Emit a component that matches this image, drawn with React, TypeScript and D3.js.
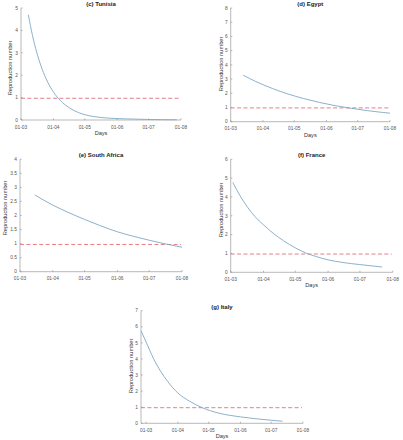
import React from "react";
import * as d3 from "d3";

// ---------- data ----------
const tickMonths = ["2020-03-01", "2020-04-01", "2020-05-01", "2020-06-01", "2020-07-01", "2020-08-01"];
const threshold = 0.97;

const tunisiaDates = ["2020-03-08", "2020-03-12", "2020-03-16", "2020-03-20", "2020-03-25", "2020-03-31", "2020-04-06", "2020-04-13", "2020-04-20", "2020-04-30", "2020-05-10", "2020-05-25", "2020-06-10", "2020-06-30", "2020-07-15", "2020-07-28"];
const tunisiaR = [4.7, 3.77, 3.03, 2.43, 1.84, 1.32, 0.95, 0.65, 0.44, 0.25, 0.15, 0.08, 0.05, 0.025, 0.015, 0.01];

const egyptDates = ["2020-03-13", "2020-03-25", "2020-04-10", "2020-04-25", "2020-05-10", "2020-05-25", "2020-06-10", "2020-06-25", "2020-07-10", "2020-07-25", "2020-08-01"];
const egyptR = [3.27, 2.83, 2.34, 1.95, 1.63, 1.36, 1.12, 0.94, 0.78, 0.65, 0.6];

const southAfricaDates = ["2020-03-15", "2020-04-01", "2020-04-15", "2020-05-01", "2020-05-15", "2020-06-01", "2020-06-15", "2020-07-01", "2020-07-15", "2020-08-01"];
const southAfricaR = [2.73, 2.37, 2.12, 1.86, 1.65, 1.42, 1.27, 1.12, 1.0, 0.87];

const franceDates = ["2020-03-03", "2020-03-10", "2020-03-17", "2020-03-24", "2020-04-01", "2020-04-10", "2020-04-20", "2020-05-01", "2020-05-12", "2020-05-20", "2020-06-01", "2020-06-15", "2020-07-01", "2020-07-22"];
const franceR = [4.77, 4.05, 3.45, 2.95, 2.52, 2.08, 1.67, 1.3, 1.0, 0.85, 0.66, 0.52, 0.41, 0.28];

const italyDates = ["2020-02-25", "2020-03-01", "2020-03-08", "2020-03-15", "2020-03-22", "2020-04-01", "2020-04-12", "2020-04-25", "2020-05-11", "2020-06-01", "2020-06-15", "2020-07-01", "2020-07-12"];
const italyR = [5.75, 5.05, 4.05, 3.25, 2.6, 1.88, 1.39, 0.96, 0.63, 0.4, 0.29, 0.19, 0.13];

const tunisiaYTicks = [0, 1, 2, 3, 4, 5];
const egyptYTicks = [0, 1, 2, 3, 4, 5, 6, 7, 8];
const southAfricaYTicks = [0, 0.5, 1, 1.5, 2, 2.5, 3, 3.5, 4];
const franceYTicks = [0, 1, 2, 3, 4, 5, 6];
const italyYTicks = [0, 1, 2, 3, 4, 5, 6, 7];

// ---------- layout ----------
type Panel = {
  title: string;
  dates: string[];
  values: number[];
  yTicks: number[];
  xStart: string;
  x0: number; x1: number; y0: number; y1: number;
  days: boolean;
  ylabX: number; ylabY: number;
};

const panels: Panel[] = [
  { title: "(c) Tunisia", dates: tunisiaDates, values: tunisiaR, yTicks: tunisiaYTicks, xStart: "2020-03-01",
    x0: 21, x1: 181, y0: 120, y1: 8, days: true, ylabX: 10, ylabY: 68 },
  { title: "(d) Egypt", dates: egyptDates, values: egyptR, yTicks: egyptYTicks, xStart: "2020-03-01",
    x0: 230.7, x1: 390, y0: 121.7, y1: 8, days: true, ylabX: 220.7, ylabY: 64 },
  { title: "(e) South Africa", dates: southAfricaDates, values: southAfricaR, yTicks: southAfricaYTicks, xStart: "2020-03-01",
    x0: 20, x1: 182, y0: 271.7, y1: 159.3, days: false, ylabX: 5, ylabY: 208 },
  { title: "(f) France", dates: franceDates, values: franceR, yTicks: franceYTicks, xStart: "2020-03-01",
    x0: 230.7, x1: 392.7, y0: 272.3, y1: 159.3, days: true, ylabX: 220.7, ylabY: 210 },
  { title: "(g) Italy", dates: italyDates, values: italyR, yTicks: italyYTicks, xStart: "2020-02-25",
    x0: 141, x1: 303, y0: 423.3, y1: 310.7, days: true, ylabX: 130.7, ylabY: 366 },
];

const FONT = "'Liberation Sans', Arial, sans-serif";
const parse = d3.timeParse("%Y-%m-%d");
const fmt = d3.timeFormat("%d-%m");

function PanelView({ p }: { p: Panel }) {
  const x = d3.scaleTime().domain([parse(p.xStart)!, parse("2020-08-01")!]).range([p.x0, p.x1]);
  const yMax = p.yTicks[p.yTicks.length - 1];
  const y = d3.scaleLinear().domain([0, yMax]).range([p.y0, p.y1]);
  const pts = p.dates.map((d, i) => [parse(d)!, p.values[i]] as [Date, number]);
  const line = d3.line<[Date, number]>().x((d) => x(d[0])).y((d) => y(d[1])).curve(d3.curveMonotoneX);
  const ticks = tickMonths.map((t) => parse(t)!);
  const axisColor = "#8a8a8a";
  const textColor = "#555";
  return (
    <g fontFamily={FONT}>
      <text x={(p.x0 + p.x1) / 2} y={p.y1 - 2} textAnchor="middle" fontSize={6} fontWeight="bold" fill="#222">
        {p.title}
      </text>
      {/* axes */}
      <line x1={p.x0} x2={p.x0} y1={p.y0} y2={p.y1} stroke={axisColor} strokeWidth={0.6} />
      <line x1={p.x0} x2={p.x1} y1={p.y0} y2={p.y0} stroke={axisColor} strokeWidth={0.6} />
      {p.yTicks.map((t) => (
        <g key={"y" + t}>
          <line x1={p.x0} x2={p.x0 + 1.6} y1={y(t)} y2={y(t)} stroke={axisColor} strokeWidth={0.6} />
          <text x={p.x0 - 3} y={y(t) + 1.7} textAnchor="end" fontSize={4.8} fill={textColor}>
            {String(t)}
          </text>
        </g>
      ))}
      {ticks.map((t) => (
        <g key={"x" + t.getTime()}>
          <line x1={x(t)} x2={x(t)} y1={p.y0} y2={p.y0 - 1.6} stroke={axisColor} strokeWidth={0.6} />
          <text x={x(t)} y={p.y0 + 8.5} textAnchor="middle" fontSize={4.8} fill={textColor}>
            {fmt(t)}
          </text>
        </g>
      ))}
      {p.days && (
        <text x={(p.x0 + p.x1) / 2} y={p.y0 + 15} textAnchor="middle" fontSize={5.6} fill="#333">
          Days
        </text>
      )}
      <text
        transform={`translate(${p.ylabX + 2},${p.ylabY}) rotate(-90)`}
        textAnchor="middle"
        fontSize={5.7}
        fill="#333"
      >
        Reproduction number
      </text>
      {/* threshold */}
      <line x1={p.x0} x2={p.x1 - 1} y1={y(threshold)} y2={y(threshold)} stroke="#e07078" strokeWidth={0.9} strokeDasharray="4,2.4" />
      {/* curve */}
      <path d={line(pts) ?? ""} fill="none" stroke="#7fa8c4" strokeWidth={0.9} />
    </g>
  );
}

export default function App() {
  return (
    <svg
      width={403}
      height={440}
      viewBox="0 0 403 440"
      style={{ position: "absolute", left: 0, top: 0, background: "#fff" }}
    >
      <rect width={403} height={440} fill="#fff" />
      {panels.map((p) => (
        <PanelView key={p.title} p={p} />
      ))}
    </svg>
  );
}
